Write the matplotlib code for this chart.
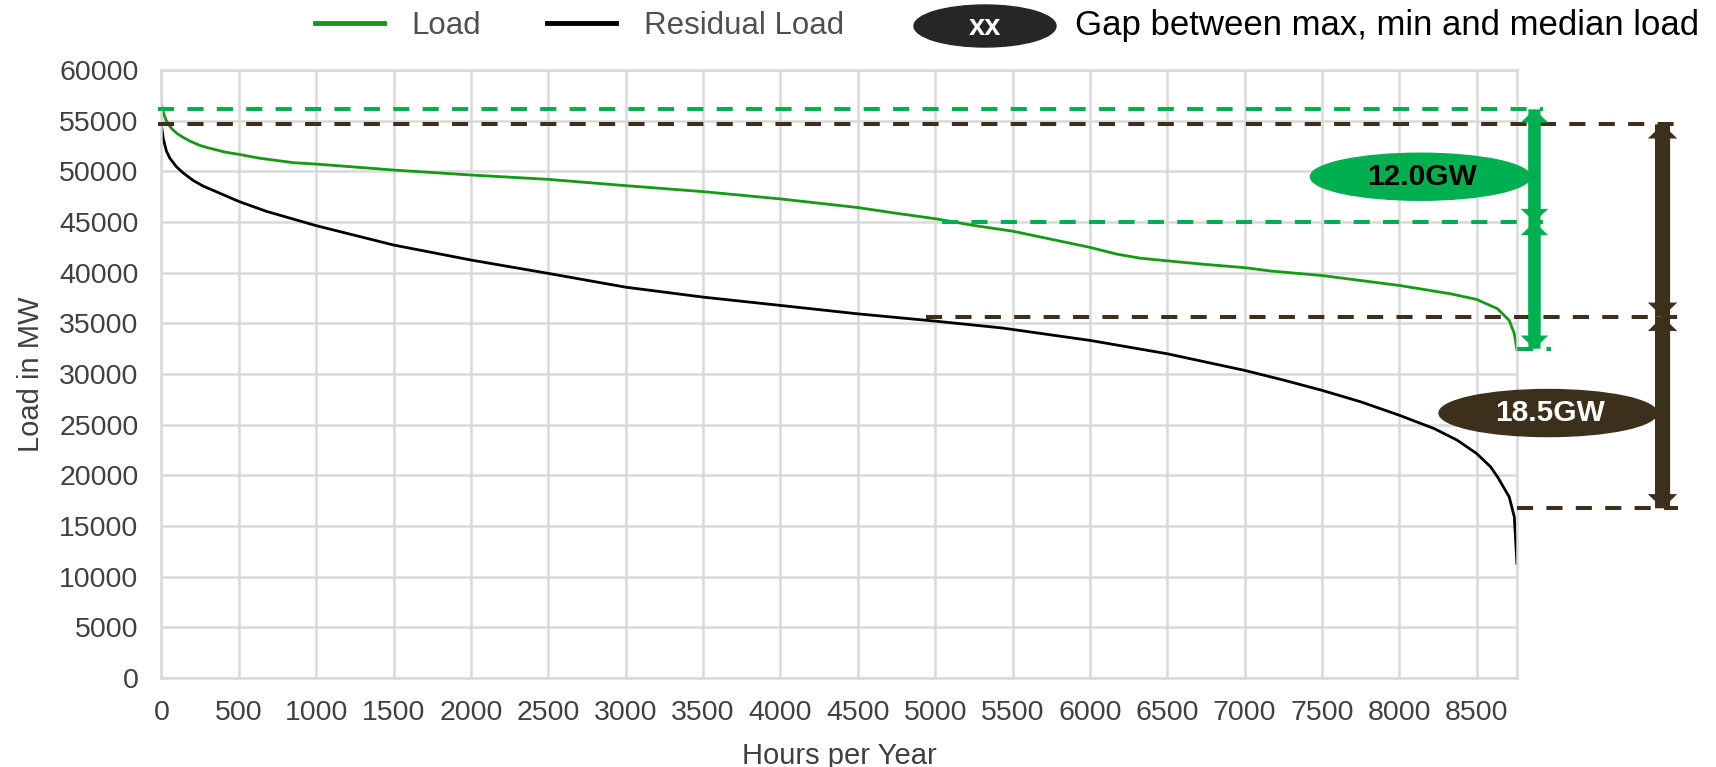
import matplotlib
matplotlib.use('Agg')
import matplotlib.pyplot as plt
from matplotlib.patches import Ellipse, FancyArrow
from matplotlib.lines import Line2D

plt.rcParams['font.family'] = ['Liberation Sans', 'DejaVu Sans']

# sorted load duration curves
hours_load = [0, 8, 16, 30, 44, 70, 100, 140, 189, 250, 300, 411, 500, 633, 856, 1000,
              1500, 2000, 2500, 3000, 3500, 4000, 4500, 4732, 5000, 5247, 5500, 5741,
              6000, 6175, 6326, 6500, 6735, 7000, 7166, 7500, 8000, 8330, 8500, 8635,
              8710, 8743, 8760]
load = [56600, 56100, 55600, 55050, 54650, 54150, 53750, 53350, 52950, 52550, 52330,
        51900, 51680, 51300, 50850, 50720, 50130, 49640, 49210, 48590, 48000, 47280,
        46430, 45900, 45330, 44670, 44100, 43330, 42500, 41830, 41430, 41170, 40830,
        40500, 40170, 39720, 38740, 37920, 37360, 36440, 35290, 33980, 32400]

hours_res = [0, 12, 32, 54, 97, 140, 205, 269, 356, 500, 679, 1000, 1500, 2000, 2500,
             3000, 3500, 4000, 4500, 5000, 5430, 6000, 6500, 7000, 7252, 7500, 7748,
             8000, 8226, 8373, 8500, 8589, 8635, 8710, 8743, 8760]
res = [54500, 53200, 52000, 51300, 50450, 49850, 49100, 48550, 47980, 47030, 46050,
       44640, 42730, 41250, 39930, 38570, 37590, 36770, 35940, 35220, 34550, 33320,
       32000, 30360, 29400, 28390, 27270, 25930, 24610, 23480, 22150, 20850, 19840,
       17870, 15900, 11300]

# max / median / min levels marked in the annotation
load_levels = [56120, 45000, 32500]
res_levels = [54640, 35650, 16750]
gap_labels = ['12.0GW', '18.5GW']

line_green = '#149a14'
ann_green = '#00b050'
ann_brown = '#3c2f1c'
tick_col = '#404040'

fig = plt.figure(figsize=(17.16, 7.67), dpi=100)
ax = fig.add_axes([0.0941, 0.1160, 0.7899, 0.7927])

ax.plot(hours_load, load, color=line_green, lw=2, solid_joinstyle='round')
ax.plot(hours_res, res, color='black', lw=2, solid_joinstyle='round')

ax.set_xlim(0, 8760)
ax.set_ylim(0, 60000)
ax.set_xticks(range(0, 8501, 500))
ax.set_yticks(range(0, 60001, 5000))
ax.grid(True, color='#d9d9d9', lw=1.8)
ax.set_axisbelow(True)
for s in ax.spines.values():
    s.set_color('#d9d9d9')
    s.set_linewidth(1.8)
ax.tick_params(length=0, labelsize=20.5, labelcolor=tick_col)
ax.tick_params(axis='y', pad=16.5)
ax.tick_params(axis='x', pad=16)
ax.set_xlabel('Hours per Year', fontsize=21, color=tick_col, labelpad=11)
ax.set_ylabel('Load in MW', fontsize=21, color=tick_col, labelpad=10)

# dashed guide lines
def dash(x0, x1, y, color):
    ax.plot([x0, x1], [y, y], color=color, lw=2.9, dashes=(4, 3.3),
            clip_on=False, zorder=4)

dash(-25, 8931, load_levels[0], ann_green)
dash(5044, 8931, load_levels[1], ann_green)
dash(8763, 8977, load_levels[2], ann_green)
dash(-25, 9804, res_levels[0], ann_brown)
dash(4943, 9804, res_levels[1], ann_brown)
dash(8763, 9804, res_levels[2], ann_brown)

def double_arrow(x, y0, y1, color, w, hw, hl):
    for a, b in ((y0, y1), (y1, y0)):
        ax.add_patch(FancyArrow(x, a, 0, b - a, width=w, head_width=hw, head_length=hl,
                                length_includes_head=True, color=color, lw=0,
                                clip_on=False, zorder=5))

double_arrow(8873, load_levels[0], load_levels[1], ann_green, 78, 178, 1300)
double_arrow(8873, load_levels[1], load_levels[2], ann_green, 78, 178, 1300)
double_arrow(9701, res_levels[0], res_levels[1], ann_brown, 97, 190, 1400)
double_arrow(9701, res_levels[1], res_levels[2], ann_brown, 97, 190, 1400)

ax.add_patch(Ellipse((8136, 49470), 1422, 4640, color=ann_green, clip_on=False, zorder=6))
ax.text(8150, 49470, gap_labels[0], ha='center', va='center', fontsize=21.5,
        fontweight='bold', color='black', zorder=7)
ax.add_patch(Ellipse((8961, 26150), 1409, 4640, color=ann_brown, clip_on=False, zorder=6))
ax.text(8975, 26150, gap_labels[1], ha='center', va='center', fontsize=21.5,
        fontweight='bold', color='white', zorder=7)

# legend row
handles = [Line2D([], [], color=line_green, lw=3.5), Line2D([], [], color='black', lw=3.5)]
fig.legend(handles, ['Load', 'Residual Load'], loc='center left',
           bbox_to_anchor=(315 / 1716, 1 - 26 / 767), ncol=2, frameon=False,
           fontsize=22.5, handlelength=2.2, handletextpad=0.9, columnspacing=2.1,
           borderpad=0, borderaxespad=0, labelcolor='#505050')
fig.add_artist(Ellipse((985 / 1716, 1 - 26 / 767), 142 / 1716, 42 / 767,
                       transform=fig.transFigure, color='#262626'))
fig.text(985 / 1716, 1 - 27 / 767, 'xx', ha='center', va='center', fontsize=21,
         fontweight='bold', color='white')
fig.text(1075 / 1716, 1 - 26 / 767, 'Gap between max, min and median load',
         ha='left', va='center', fontsize=25, color='black')

fig.savefig('out.png', dpi=100)
